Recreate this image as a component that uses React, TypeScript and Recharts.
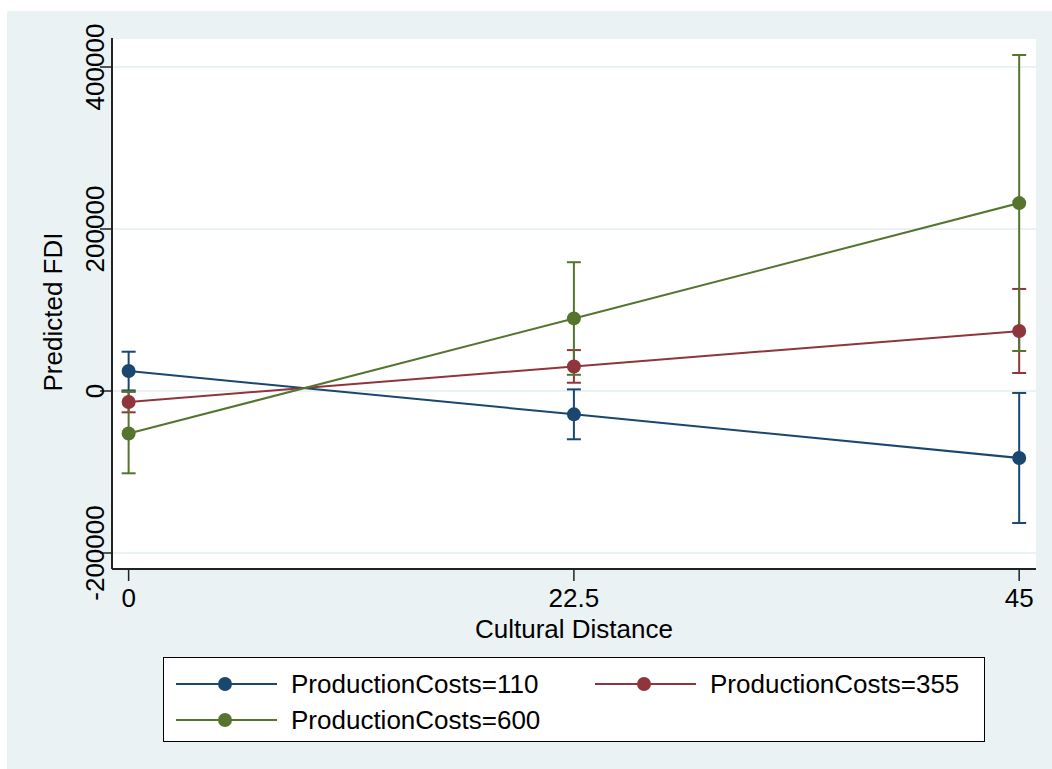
import React from 'react'
import { LineChart, Line, XAxis, YAxis, CartesianGrid, ErrorBar } from 'recharts'

const distances = [0, 22.5, 45]
const xTicks = [0, 22.5, 45]
const yTicks = [-200000, 0, 200000, 400000]

const seriesNames = ['ProductionCosts=110', 'ProductionCosts=355', 'ProductionCosts=600']
const seriesColors = ['#1a476f', '#90353b', '#55752f']

// predicted values and 95% CI bounds at each distance
const pc110 = [24700, -28800, -82700]
const pc110Lo = [700, -59600, -163000]
const pc110Hi = [48500, 2000, -2400]

const pc355 = [-13600, 30300, 74000]
const pc355Lo = [-26300, 10200, 22200]
const pc355Hi = [-900, 50500, 126000]

const pc600 = [-52500, 89600, 232000]
const pc600Lo = [-101600, 20000, 49400]
const pc600Hi = [-800, 159000, 414800]

const FONT = '"Liberation Sans", Arial, sans-serif'
const FS = 26
const keys = ['s110', 's355', 's600']

const data = distances.map((x, i) => ({
  x,
  s110: pc110[i],
  s110Err: [pc110[i] - pc110Lo[i], pc110Hi[i] - pc110[i]],
  s355: pc355[i],
  s355Err: [pc355[i] - pc355Lo[i], pc355Hi[i] - pc355[i]],
  s600: pc600[i],
  s600Err: [pc600[i] - pc600Lo[i], pc600Hi[i] - pc600[i]],
}))

const XTick = (props: any) => {
  const { x, y, payload } = props
  return (
    <text x={x} y={y} dy={24} textAnchor="middle" fontFamily={FONT} fontSize={FS} fill="#000">
      {payload.value}
    </text>
  )
}

const YTick = (props: any) => {
  const { x, y, payload } = props
  return (
    <text
      x={x + 4}
      y={y}
      transform={`rotate(-90, ${x + 4}, ${y})`}
      textAnchor="middle"
      fontFamily={FONT}
      fontSize={FS}
      fill="#000"
    >
      {payload.value}
    </text>
  )
}

function LegendBox() {
  const rows = [
    { name: seriesNames[0], color: seriesColors[0], x: 12, y: 26 },
    { name: seriesNames[1], color: seriesColors[1], x: 431, y: 26 },
    { name: seriesNames[2], color: seriesColors[2], x: 12, y: 62 },
  ]
  return (
    <div
      style={{
        position: 'absolute', left: 163, top: 657, width: 820, height: 83,
        border: '1px solid #000', background: '#fff',
      }}
    >
      <svg width={820} height={83}>
        {rows.map((r) => (
          <g key={r.name}>
            <line x1={r.x} x2={r.x + 101} y1={r.y} y2={r.y} stroke={r.color} strokeWidth={2} />
            <circle cx={r.x + 49} cy={r.y} r={7} fill={r.color} />
            <text x={r.x + 115} y={r.y + 9} fontFamily={FONT} fontSize={FS} fill="#000">
              {r.name}
            </text>
          </g>
        ))}
      </svg>
    </div>
  )
}

export default function App() {
  return (
    <div style={{ position: 'absolute', left: 0, top: 0, width: 1052, height: 769, background: '#fff' }}>
      <div style={{ position: 'absolute', left: 7, top: 11, width: 1045, height: 758, background: '#eaf2f3' }} />
      <div style={{ position: 'absolute', left: 0, top: 0 }}>
        <LineChart width={1052} height={769} data={data} margin={{ top: 38, right: 16, left: 0, bottom: 0 }}>
          <CartesianGrid vertical={false} fill="#fff" stroke="#eaf2f3" strokeWidth={2} />
          <XAxis
            dataKey="x"
            type="number"
            domain={[-0.84, 45.85]}
            ticks={xTicks}
            allowDataOverflow
            height={200}
            tickSize={12}
            tickMargin={2}
            tick={<XTick />}
            axisLine={{ stroke: '#222', strokeWidth: 2 }}
            tickLine={{ stroke: '#222', strokeWidth: 1.5 }}
            label={() => (
              <text x={574} y={638} textAnchor="middle" fontFamily={FONT} fontSize={FS} fill="#000">
                Cultural Distance
              </text>
            )}
          />
          <YAxis
            type="number"
            domain={[-219753, 435802]}
            ticks={yTicks}
            allowDataOverflow
            width={112}
            tickSize={12}
            tickMargin={0}
            tick={<YTick />}
            axisLine={{ stroke: '#222', strokeWidth: 2 }}
            tickLine={{ stroke: '#222', strokeWidth: 1.5 }}
            label={() => (
              <text
                x={62}
                y={312}
                transform="rotate(-90, 62, 312)"
                textAnchor="middle"
                fontFamily={FONT}
                fontSize={FS}
                fill="#000"
              >
                Predicted FDI
              </text>
            )}
          />
          {keys.map((k, i) => (
            <Line
              key={k}
              dataKey={k}
              type="linear"
              stroke={seriesColors[i]}
              strokeWidth={2}
              dot={{ r: 7, fill: seriesColors[i], stroke: seriesColors[i], strokeWidth: 0 }}
              isAnimationActive={false}
            >
              <ErrorBar
                dataKey={`${k}Err`}
                direction="y"
                width={7}
                stroke={seriesColors[i]}
                strokeWidth={2}
                isAnimationActive={false}
              />
            </Line>
          ))}
        </LineChart>
      </div>
      <LegendBox />
    </div>
  )
}
